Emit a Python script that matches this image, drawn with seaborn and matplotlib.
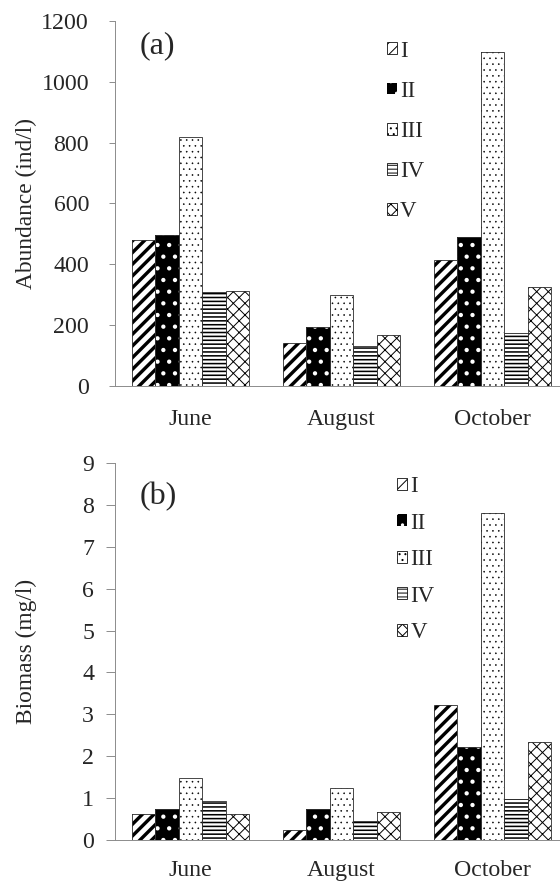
import matplotlib
matplotlib.use('Agg')
import matplotlib.pyplot as plt
from matplotlib.patches import Patch, Rectangle
import seaborn as sns
import pandas as pd

# data
months = ['June', 'August', 'October']
groups = ['I', 'II', 'III', 'IV', 'V']

abund_june = [480, 495, 820, 310, 312]
abund_august = [142, 193, 298, 130, 166]
abund_october = [415, 490, 1098, 173, 324]

biomass_june = [0.61, 0.75, 1.47, 0.92, 0.61]
biomass_august = [0.25, 0.75, 1.25, 0.45, 0.68]
biomass_october = [3.22, 2.23, 7.8, 0.98, 2.34]

abund_ticks = [0, 200, 400, 600, 800, 1000, 1200]
biomass_ticks = list(range(0, 10))

# pattern per group: face, hatch colour, hatch, hatch line width
styles = [
    ('white', 'black', '//', 3.5),
    ('black', 'white', '.', 2.0),
    ('white', 'black', '..', 0.5),
    ('white', 'black', '---', 1.6),
    ('white', 'black', 'xx', 1.0),
]

def long_table(june, august, october, col):
    rows = []
    for m, vals in zip(months, [june, august, october]):
        for g, v in zip(groups, vals):
            rows.append({'month': m, 'group': g, col: v})
    return pd.DataFrame(rows)

df_abund = long_table(abund_june, abund_august, abund_october, 'abundance')
df_bio = long_table(biomass_june, biomass_august, biomass_october, 'biomass')

sns.set_style('white')
plt.rcParams['font.family'] = ['Liberation Serif', 'DejaVu Serif']
plt.rcParams['hatch.linewidth'] = 1.0

spine_c = '#8c8c8c'
edge_c = '#333333'

fig = plt.figure(figsize=(8, 12.6), dpi=70)
ax1 = fig.add_axes([0.2054, 0.5624, 0.809, 0.4138])
ax2 = fig.add_axes([0.2054, 0.0476, 0.809, 0.4274])


def draw_panel(ax, df, col, ticks, ylabel, ypad, ylen, xpad):
    sns.barplot(data=df, x='month', y=col, hue='group', order=months,
                hue_order=groups, width=0.78, ax=ax, legend=False,
                errorbar=None, saturation=1)
    bars = sorted(ax.patches, key=lambda p: p.get_x())
    for i, p in enumerate(bars):
        face, hcol, hatch, hlw = styles[i % len(groups)]
        p.set_facecolor(face)
        p.set_edgecolor(hcol)
        p.set_linewidth(0)
        p.set_hatch(hatch)
        p.set_hatch_linewidth(hlw)
        ax.add_patch(Rectangle(p.get_xy(), p.get_width(), p.get_height(),
                               fill=False, edgecolor=edge_c, lw=0.9,
                               zorder=p.get_zorder() + 0.1))
    ax.set_xlim(-0.5, 2.5)
    ax.set_ylim(ticks[0], ticks[-1])
    ax.set_yticks(ticks)
    ax.set_xticks([-0.5, 0.5, 1.5, 2.5], minor=True)
    ax.tick_params(axis='x', which='major', length=0, pad=xpad, labelsize=24.5)
    ax.tick_params(axis='x', which='minor', length=7.5, width=1, color=spine_c, direction='out')
    ax.tick_params(axis='y', length=ylen, width=1, color=spine_c, pad=ypad,
                   labelsize=24.5, direction='out', left=True)
    ax.set_xlabel('')
    ax.set_ylabel(ylabel, fontsize=24)
    ax.yaxis.set_label_coords(-0.172, 0.5)
    sns.despine(ax=ax)
    for s in ['left', 'bottom']:
        ax.spines[s].set_color(spine_c)
        ax.spines[s].set_linewidth(1)


draw_panel(ax1, df_abund, 'abundance', abund_ticks, 'Abundance (ind/l)', 20.5, 6.2, 23.5)
draw_panel(ax2, df_bio, 'biomass', biomass_ticks, 'Biomass (mg/l)', 12.5, 9.0, 20.5)

ax1.text(0.093, 0.932, '(a)', transform=ax1.transAxes, fontsize=33, ha='center', va='center')
ax2.text(0.095, 0.912, '(b)', transform=ax2.transAxes, fontsize=33, ha='center', va='center')

handles = []
for face, hcol, hatch, hlw in styles:
    if face == 'black':
        handles.append(Patch(facecolor=face, edgecolor=hcol, hatch=hatch, linewidth=0))
    else:
        handles.append(Patch(facecolor=face, edgecolor=hcol, hatch=hatch, linewidth=0.8))

ax1.legend(handles, groups, loc='upper left', bbox_to_anchor=(0.691, 0.954),
           bbox_transform=fig.transFigure, frameon=False, fontsize=23.5,
           handlelength=0.43, handleheight=0.43, handletextpad=0.15,
           labelspacing=0.835, borderpad=0, borderaxespad=0)
ax2.legend(handles, groups, loc='upper left', bbox_to_anchor=(0.709, 0.4603),
           bbox_transform=fig.transFigure, frameon=False, fontsize=23.5,
           handlelength=0.43, handleheight=0.43, handletextpad=0.15,
           labelspacing=0.68, borderpad=0, borderaxespad=0)

fig.savefig('out.png', dpi=70)
